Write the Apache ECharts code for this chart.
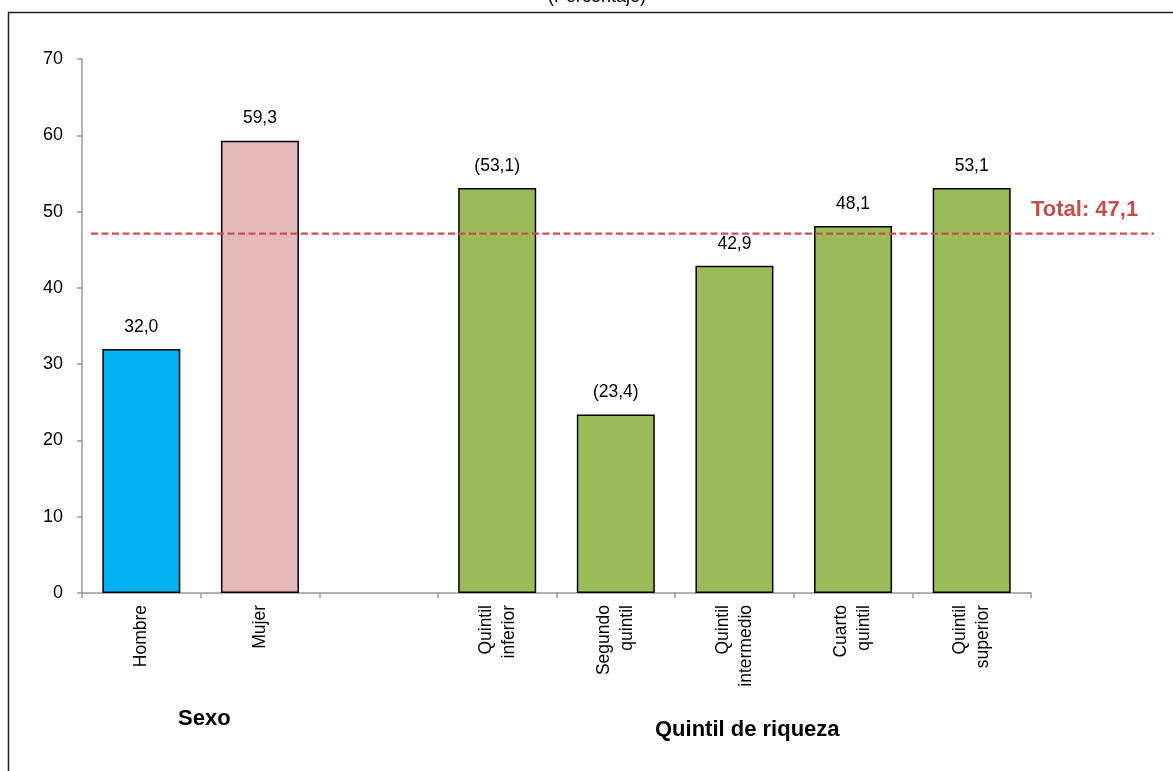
<!DOCTYPE html>
<html>
<head>
<meta charset="utf-8">
<script src="https://cdn.jsdelivr.net/npm/echarts@6/dist/echarts.min.js"></script>
<style>html,body{margin:0;padding:0;background:#fff}#c{width:1173px;height:771px}</style>
</head>
<body>
<div id="c"></div>
<script>
const categories = ['Hombre', 'Mujer', '', 'Quintil\ninferior', 'Segundo\nquintil', 'Quintil\nintermedio', 'Cuarto\nquintil', 'Quintil\nsuperior'];
const values = [32.0, 59.3, null, 53.1, 23.4, 42.9, 48.1, 53.1];
const fewCases = [false, false, false, true, true, false, false, false];
const groups = ['sexo', 'sexo', '', 'quintil', 'quintil', 'quintil', 'quintil', 'quintil'];
const totalValue = 47.1;
const yTicks = [0, 10, 20, 30, 40, 50, 60, 70];

const sexColors = ['#00B0F0', '#E6B9B8'];
const quintilColor = '#9BBB59';

const fmt = v => v.toFixed(1).replace('.', ',');

const chart = echarts.init(document.getElementById('c'), null, {renderer: 'canvas'});
const font = '"Liberation Sans", Arial, sans-serif';

const barData = values.map((v, i) => {
  if (v === null) return null;
  const col = groups[i] === 'sexo' ? sexColors[i] : quintilColor;
  return {value: v, itemStyle: {color: col, borderColor: '#000', borderWidth: 1.5}};
});

chart.setOption({
  animation: false,
  backgroundColor: '#fff',
  grid: [
    {left: 82, right: 142, top: 59, bottom: 178, containLabel: false},
    {left: 91, right: 19, top: 59, bottom: 178, containLabel: false}
  ],
  xAxis: [
    {
      type: 'category', data: categories, gridIndex: 0,
      axisLine: {lineStyle: {color: '#999', width: 1.5}},
      axisTick: {show: true, length: 5, lineStyle: {color: '#999', width: 1.5}},
      axisLabel: {rotate: 90, interval: 0, color: '#000', fontFamily: font, fontSize: 17.5, lineHeight: 23, margin: 12}
    },
    {type: 'value', gridIndex: 1, min: 0, max: 1, show: false}
  ],
  yAxis: [
    {
      type: 'value', gridIndex: 0, min: 0, max: 70, interval: 10,
      axisLine: {show: true, lineStyle: {color: '#999', width: 1.5}},
      axisTick: {show: true, length: 5, lineStyle: {color: '#999', width: 1.5}},
      splitLine: {show: false},
      axisLabel: {color: '#000', fontFamily: font, fontSize: 18, margin: 19,
        formatter: v => yTicks.includes(v) ? String(v) : ''}
    },
    {type: 'value', gridIndex: 1, min: 0, max: 70, show: false}
  ],
  series: [
    {
      type: 'bar', xAxisIndex: 0, yAxisIndex: 0,
      data: barData, barWidth: 78,
      label: {
        show: true, position: 'top', distance: 13, color: '#000',
        fontFamily: font, fontSize: 17.5,
        formatter: p => fewCases[p.dataIndex] ? '(' + fmt(p.value) + ')' : fmt(p.value)
      }
    },
    {
      type: 'line', xAxisIndex: 1, yAxisIndex: 1, z: 5,
      data: [[0, totalValue], [1, totalValue]],
      symbol: 'none',
      lineStyle: {color: '#C9504D', width: 2.2, type: [7, 3.5]}
    }
  ],
  graphic: [
    {type: 'text', x: 597, y: 6,
      style: {text: '(Porcentaje)', fill: '#000', font: '18px ' + font, align: 'center', verticalAlign: 'bottom'}},
    {type: 'polyline', shape: {points: [[8.5, 771], [8.5, 12.5], [1173, 12.5]]},
      style: {stroke: '#222', lineWidth: 1.5, fill: null}, silent: true},
    {type: 'text', left: 1031, top: 199,
      style: {text: 'Total: ' + fmt(totalValue), fill: '#C0504D', font: 'bold 22px ' + font}},
    {type: 'text', left: 178, top: 708,
      style: {text: 'Sexo', fill: '#000', font: 'bold 22px ' + font}},
    {type: 'text', left: 655, top: 719,
      style: {text: 'Quintil de riqueza', fill: '#000', font: 'bold 22px ' + font}}
  ]
});
</script>
</body>
</html>
